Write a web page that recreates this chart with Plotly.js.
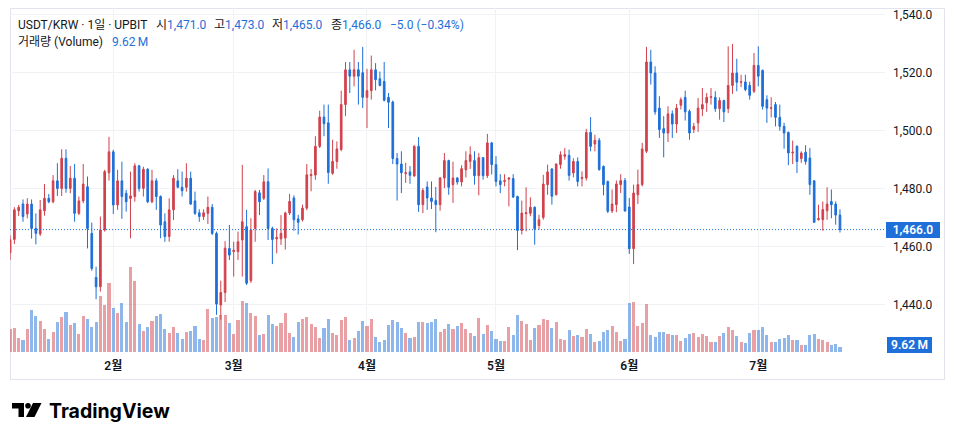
<!DOCTYPE html>
<html>
<head>
<meta charset="utf-8">
<script src="https://cdn.plot.ly/plotly-3.0.1.min.js"></script>
<style>
  html, body { margin: 0; padding: 0; background: #ffffff; }
  #chart { width: 954px; height: 440px; }
</style>
</head>
<body>
<div id="chart"></div>
<script>
// USDT/KRW daily candles on UPBIT, 2025-01-08 .. 2025-07-20
const firstDay = [2025, 0, 8];

// [Jan 8 .. Jan 31]
// [Feb] [Mar] [Apr] [May] [Jun] [Jul 1 .. Jul 20]
const opens = [
  1458.0,1462.6,1472.5,1474.8,1471.4,1474.8,1466.4,1464.5,1472.5,1476.8,1475.6,1482.8,1480.2,1490.6,1480.2,1483.7,1471.6,1475.9,1480.8,1464.7,1449.5,1446.3,1465.9,1485.6,
  1492.8,1474.5,1482.8,1478.5,1476.7,1477.4,1488.0,1480.2,1486.8,1475.6,1482.8,1477.4,1468.7,1463.6,1472.8,1482.8,1480.6,1480.6,1483.7,1475.9,1471.8,1470.5,1471.6,1473.7,1464.7,1440.0,1444.3,1459.5,
  1458.4,1458.4,1462.4,1467.0,1448.4,1466.4,1478.7,1476.8,1482.5,1466.4,1462.8,1462.8,1463.1,1471.7,1476.9,1469.7,1469.4,1473.4,1484.6,1484.8,1494.7,1504.8,1502.8,1485.4,1489.5,1493.6,1509.1,1521.1,1518.9,1521.1,1520.1,
  1511.6,1513.9,1521.1,1518.0,1517.1,1511.6,1510.0,1490.5,1488.6,1485.3,1485.9,1484.5,1494.7,1474.6,1480.7,1476.9,1476.0,1474.6,1483.8,1489.8,1481.5,1483.8,1482.4,1486.6,1489.5,1489.8,1484.6,1490.8,1484.6,1495.9,
  1488.4,1482.8,1482.6,1483.4,1483.6,1477.4,1465.7,1471.5,1471.6,1473.7,1467.4,1470.2,1481.5,1486.9,1478.0,1488.4,1491.3,1491.6,1485.5,1489.5,1483.6,1483.8,1499.5,1495.5,1496.8,1487.8,1482.6,1472.4,1474.6,1481.5,1482.9,
  1473.8,1459.4,1478.0,1481.5,1493.0,1523.8,1520.0,1507.9,1500.8,1499.3,1505.9,1502.4,1508.9,1511.6,1506.8,1500.5,1502.8,1507.6,1509.7,1511.6,1511.6,1507.7,1510.5,1507.7,1515.7,1520.0,1516.8,1516.9,1515.7,1513.7,
  1522.6,1520.9,1510.8,1507.8,1509.1,1504.7,1501.6,1499.5,1492.4,1494.7,1490.5,1492.7,1490.7,1482.8,1469.4,1469.4,1472.5,1475.7,1474.8,1471.0
];
const highs = [
  1464.0,1473.7,1474.5,1476.4,1476.8,1476.4,1471.6,1476.2,1481.7,1478.3,1484.8,1488.9,1493.7,1493.7,1487.9,1488.6,1477.4,1488.6,1484.3,1468.4,1453.2,1470.5,1486.6,1498.0,
  1493.5,1486.6,1489.4,1479.7,1486.0,1488.9,1488.3,1487.7,1487.2,1486.6,1483.7,1477.8,1471.6,1476.8,1484.8,1486.8,1486.0,1488.9,1486.0,1479.1,1473.0,1473.0,1477.4,1474.8,1465.3,1448.4,1462.0,1467.6,
  1461.8,1465.3,1488.3,1472.8,1469.9,1479.7,1479.7,1484.8,1487.1,1467.0,1466.4,1471.0,1472.2,1478.3,1477.8,1471.1,1474.6,1488.6,1486.9,1498.2,1507.0,1509.1,1509.1,1497.0,1496.4,1513.9,1523.8,1523.8,1528.0,1523.8,1529.0,
  1521.4,1526.0,1523.4,1520.5,1523.8,1513.1,1510.5,1492.4,1493.0,1489.0,1487.9,1495.1,1497.9,1480.3,1482.6,1482.6,1480.7,1484.1,1492.4,1490.1,1489.4,1484.1,1488.2,1493.0,1494.7,1493.0,1492.4,1491.0,1499.0,1496.2,
  1491.3,1485.1,1485.1,1484.0,1485.1,1477.7,1476.0,1480.6,1477.1,1474.0,1471.1,1484.9,1488.4,1487.2,1488.8,1493.0,1494.1,1493.6,1490.6,1490.9,1486.1,1500.7,1504.8,1498.7,1497.6,1488.1,1482.9,1479.8,1482.9,1485.1,1483.8,
  1476.9,1481.5,1486.7,1495.9,1529.0,1528.0,1522.3,1512.0,1505.1,1508.5,1507.1,1509.3,1511.6,1513.9,1507.4,1502.8,1511.4,1514.8,1513.1,1514.8,1513.7,1511.6,1510.8,1529.2,1530.0,1524.9,1519.4,1519.4,1517.0,1526.9,
  1529.2,1521.2,1512.3,1511.6,1510.0,1509.1,1502.8,1499.8,1496.7,1495.1,1493.0,1495.1,1494.1,1483.1,1474.6,1475.7,1480.6,1479.8,1475.7,1473.0
];
const lows = [
  1455.5,1461.0,1470.7,1468.7,1469.9,1462.9,1460.9,1463.8,1470.8,1475.1,1475.1,1477.6,1477.6,1478.7,1478.5,1468.7,1471.0,1475.1,1459.5,1451.8,1442.0,1444.6,1465.3,1482.9,
  1471.4,1472.8,1469.7,1472.2,1463.0,1475.6,1479.1,1477.4,1475.1,1475.1,1472.8,1463.0,1461.8,1461.8,1469.3,1480.2,1477.4,1479.1,1474.5,1471.0,1468.7,1469.3,1467.9,1464.1,1436.6,1435.0,1441.0,1455.5,
  1449.8,1455.5,1449.8,1446.9,1447.6,1461.8,1471.0,1476.2,1462.4,1454.1,1457.8,1460.7,1459.1,1471.0,1465.6,1464.3,1468.8,1472.7,1479.2,1483.2,1494.1,1498.2,1481.8,1484.9,1487.0,1493.0,1505.1,1513.1,1515.4,1509.1,1507.9,
  1501.0,1510.8,1514.0,1515.4,1510.2,1501.0,1488.6,1476.0,1478.6,1482.1,1481.8,1484.2,1472.1,1471.7,1472.8,1473.1,1465.1,1472.5,1480.3,1478.0,1475.2,1481.5,1480.9,1484.0,1486.9,1481.5,1477.8,1483.2,1483.8,1485.0,
  1480.9,1478.6,1480.9,1474.0,1476.9,1458.9,1464.3,1465.4,1470.6,1460.8,1466.0,1469.4,1478.0,1474.6,1477.8,1487.0,1490.1,1482.9,1484.0,1480.9,1480.9,1482.9,1493.0,1493.0,1486.3,1477.8,1471.7,1471.7,1472.0,1478.6,1472.2,
  1457.6,1454.1,1474.8,1480.9,1492.4,1516.0,1505.6,1497.6,1490.9,1496.2,1497.6,1499.3,1507.4,1503.6,1497.0,1499.3,1499.7,1505.1,1506.6,1509.1,1506.6,1503.9,1503.1,1506.2,1512.8,1513.7,1515.1,1513.7,1510.8,1513.1,
  1515.4,1507.4,1502.8,1504.7,1501.6,1500.1,1493.9,1488.2,1488.6,1485.5,1489.0,1488.4,1478.0,1468.3,1469.1,1465.6,1469.4,1469.9,1467.7,1465.0
];
const closes = [
  1462.5,1472.8,1473.7,1470.5,1474.8,1466.4,1464.7,1472.8,1476.8,1475.6,1482.8,1480.2,1490.6,1480.2,1483.7,1471.6,1475.9,1481.7,1466.4,1452.6,1446.3,1465.9,1486.0,1492.8,
  1474.5,1482.8,1477.4,1475.6,1477.6,1488.0,1480.2,1486.8,1475.6,1482.8,1477.4,1467.6,1463.6,1472.8,1483.7,1480.6,1479.4,1483.7,1474.8,1471.6,1470.5,1471.8,1473.7,1464.7,1440.3,1444.3,1459.6,1457.2,
  1458.9,1461.8,1468.7,1447.5,1465.9,1479.1,1475.6,1482.5,1466.4,1462.6,1463.3,1464.7,1471.7,1475.7,1469.4,1468.5,1473.4,1484.9,1485.0,1494.7,1504.8,1502.5,1485.7,1489.5,1493.8,1509.1,1521.1,1518.9,1521.1,1518.9,1511.6,
  1513.9,1521.1,1517.7,1515.7,1510.6,1509.9,1490.5,1488.6,1485.6,1485.6,1484.7,1494.7,1474.6,1479.5,1476.9,1475.7,1474.6,1483.8,1489.8,1480.6,1483.8,1482.4,1487.0,1489.8,1491.8,1484.6,1490.8,1484.6,1495.9,1488.4,
  1482.6,1481.5,1482.9,1483.8,1477.2,1465.7,1471.7,1471.8,1473.7,1466.3,1469.4,1481.7,1485.9,1477.5,1488.6,1491.8,1491.8,1484.7,1489.5,1482.6,1484.0,1499.5,1494.7,1496.8,1486.7,1481.5,1472.3,1474.8,1481.7,1482.9,1472.4,
  1459.4,1478.6,1481.5,1493.8,1523.8,1520.0,1506.6,1500.5,1499.3,1505.9,1502.4,1507.9,1510.8,1506.6,1499.3,1501.6,1507.9,1509.1,1511.6,1511.8,1507.7,1510.5,1506.6,1515.7,1520.0,1516.8,1517.0,1514.3,1512.3,1522.6,
  1518.9,1508.5,1507.9,1508.0,1504.7,1501.6,1499.3,1492.4,1492.7,1489.5,1492.4,1489.5,1481.5,1468.5,1469.8,1472.9,1474.8,1474.6,1471.0,1466.0
];
// traded volume, millions of USDT
const volumes = [
  45.0,46.2,26.9,22.4,43.6,80.2,68.6,59.0,43.6,24.4,37.8,57.1,67.3,76.3,51.3,55.2,34.0,68.6,62.8,47.5,57.1,107.1,89.8,132.8,
  84.0,74.4,93.6,57.1,163.5,136.0,53.2,39.8,47.5,59.0,68.6,72.5,43.6,35.9,47.5,35.9,24.4,37.8,39.8,49.4,24.4,22.4,82.1,64.8,67.3,70.5,70.5,55.2,
  34.0,60.9,97.5,93.6,74.4,68.6,32.1,34.0,70.5,53.2,49.4,55.2,74.4,35.9,28.2,57.1,62.8,66.7,53.2,47.5,26.3,45.5,62.8,35.9,32.1,60.9,66.7,22.4,26.3,39.8,59.0,
  49.4,62.8,28.2,18.6,22.4,51.3,60.9,57.1,45.5,35.9,26.3,28.2,57.1,57.1,55.2,57.1,62.8,37.8,43.6,53.2,43.6,49.4,55.2,43.6,35.9,30.1,64.8,34.0,51.3,39.8,
  25.7,20.5,20.5,48.1,32.1,70.5,59.0,53.2,22.4,45.5,51.9,62.8,60.9,45.5,57.1,24.4,22.4,41.7,30.1,32.1,28.9,43.6,34.0,18.6,20.5,37.8,41.7,49.4,37.8,20.5,24.4,
  93.6,95.6,49.4,55.2,91.7,32.1,28.2,37.8,37.8,34.0,32.1,32.1,20.5,26.3,34.0,35.9,28.2,34.0,30.1,18.6,18.6,30.1,35.9,47.5,41.7,30.1,18.6,16.7,35.9,41.7,
  41.7,47.5,32.1,18.6,18.6,25.7,26.9,32.1,22.4,22.4,12.8,12.8,32.1,34.0,24.4,22.4,18.6,12.8,14.8,9.62
];
const monthTicks = ['2025-02-01','2025-03-01','2025-04-01','2025-05-01','2025-06-01','2025-07-01'];
const monthLabels = ['2월','3월','4월','5월','6월','7월'];

const lastPrice = 1466.0;
const lastVolumeText = '9.62\u2009M';

const UP = '#d1414c', DOWN = '#1e6fd9';
const UP_VOL = 'rgba(209,65,76,0.5)', DOWN_VOL = 'rgba(30,111,217,0.5)';
const INK = '#131722', GRID = '#f0f2f6';
const FONT = "Roboto, 'Noto Sans CJK KR', sans-serif";

const dayMs = 86400000;
const start = Date.UTC(firstDay[0], firstDay[1], firstDay[2]);
const dates = opens.map((_, i) => new Date(start + i * dayMs).toISOString().slice(0, 10));
const volColors = opens.map((o, i) => closes[i] >= o ? UP_VOL : DOWN_VOL);

// pixel -> paper helpers (plot area is 875 x 344 at offset 10, 8)
const W = 954, H = 440, M = {l: 10, r: 69, t: 8, b: 88};
const PW = W - M.l - M.r, PH = H - M.t - M.b;
const px = x => (x - M.l) / PW;
const py = y => (H - M.b - y) / PH;
const pathOf = pts => 'M' + pts.map(p => px(p[0]).toFixed(5) + ',' + py(p[1]).toFixed(5)).join('L') + 'Z';

const volumeTrace = {
  type: 'bar', x: dates, y: volumes, yaxis: 'y',
  width: 0.72 * dayMs,
  marker: {color: volColors, line: {width: 0}},
  hoverinfo: 'skip'
};
const candleTrace = {
  type: 'candlestick', x: dates, open: opens, high: highs, low: lows, close: closes,
  yaxis: 'y2',
  increasing: {line: {color: UP, width: 1}, fillcolor: UP},
  decreasing: {line: {color: DOWN, width: 1}, fillcolor: DOWN},
  whiskerwidth: 0,
  hoverinfo: 'skip'
};

const blue = t => '<span style="color:' + DOWN + '">' + t + '</span>';
const label = (x, y, text, extra) => Object.assign({
  xref: 'paper', yref: 'paper', x: px(x), y: py(y), xanchor: 'left', yanchor: 'middle',
  text: text, showarrow: false, font: {family: FONT, size: 12, color: INK}
}, extra || {});

const annotations = [
  label(16, 25, 'USDT/KRW · 1일 · UPBIT'),
  label(154, 25, '시' + blue('1,471.0')),
  label(212, 25, '고' + blue('1,473.0')),
  label(270, 25, '저' + blue('1,465.0')),
  label(329, 25, '종' + blue('1,466.0')),
  label(388, 25, blue('\u22125.0 (\u22120.34%)')),
  label(16, 42.5, '거래량 (Volume)'),
  label(110, 42.5, blue(lastVolumeText)),
  {
    xref: 'paper', yref: 'y2', x: px(886), y: lastPrice, xanchor: 'left', yanchor: 'middle',
    text: '1,466.0', showarrow: false, bgcolor: DOWN, borderwidth: 0, borderpad: 0,
    width: 54, height: 16, align: 'center',
    font: {family: FONT, size: 12, color: '#ffffff', weight: 600}
  },
  {
    xref: 'paper', yref: 'paper', x: px(887), y: py(345), xanchor: 'left', yanchor: 'middle',
    text: lastVolumeText, showarrow: false, bgcolor: DOWN, borderwidth: 0, borderpad: 0,
    width: 45, height: 16, align: 'center',
    font: {family: FONT, size: 12, color: '#ffffff', weight: 600}
  },
  label(47, 411, 'TradingView', {font: {family: "Inter, Roboto, sans-serif", size: 19.5, color: '#000000', weight: 700}})
];

const shapes = [
  // chart frame
  {type: 'rect', xref: 'paper', yref: 'paper', x0: px(10.5), x1: px(944.5), y0: py(8.5), y1: py(379.5),
   line: {color: '#e0e3eb', width: 1}, fillcolor: 'rgba(0,0,0,0)', layer: 'below'},
  // last price line
  {type: 'line', xref: 'paper', yref: 'y2', x0: 0, x1: 1, y0: lastPrice, y1: lastPrice,
   line: {color: DOWN, width: 1, dash: '1px,2px'}},
  // logo mark
  {type: 'path', xref: 'paper', yref: 'paper', line: {width: 0}, fillcolor: '#000000',
   path: pathOf([[12, 403], [24, 403], [24, 417], [18.5, 417], [18.5, 408.5], [12, 408.5]])},
  {type: 'circle', xref: 'paper', yref: 'paper', line: {width: 0}, fillcolor: '#000000',
   x0: px(25.2), x1: px(30.8), y0: py(403), y1: py(408.6)},
  {type: 'path', xref: 'paper', yref: 'paper', line: {width: 0}, fillcolor: '#000000',
   path: pathOf([[33, 403], [41.5, 403], [34.5, 417], [26, 417]])}
];

const layout = {
  width: W, height: H, margin: M,
  paper_bgcolor: '#ffffff', plot_bgcolor: '#ffffff',
  showlegend: false, boxgap: 0.45, bargap: 0,
  xaxis: {
    type: 'date', range: ['2025-01-07 23:30', '2025-07-30 11:15'],
    tickmode: 'array', tickvals: monthTicks, ticktext: monthLabels,
    showgrid: true, gridcolor: GRID, gridwidth: 1, zeroline: false, showline: false,
    ticks: '', ticklabelstandoff: 5,
    tickfont: {family: FONT, size: 12, color: INK, weight: 600},
    rangeslider: {visible: false}, fixedrange: true
  },
  yaxis: {range: [0, 661.9], visible: false, fixedrange: true},
  yaxis2: {
    overlaying: 'y', side: 'right', range: [1423.79, 1542.41],
    tick0: 1440, dtick: 20, tickformat: ',.1f',
    showgrid: true, gridcolor: GRID, gridwidth: 1, zeroline: false, showline: false,
    ticks: '', ticklabelstandoff: 7,
    tickfont: {family: FONT, size: 12, color: INK}, fixedrange: true
  },
  annotations: annotations,
  shapes: shapes
};

Plotly.newPlot('chart', [volumeTrace, candleTrace], layout, {displayModeBar: false, staticPlot: true});
</script>
</body>
</html>
